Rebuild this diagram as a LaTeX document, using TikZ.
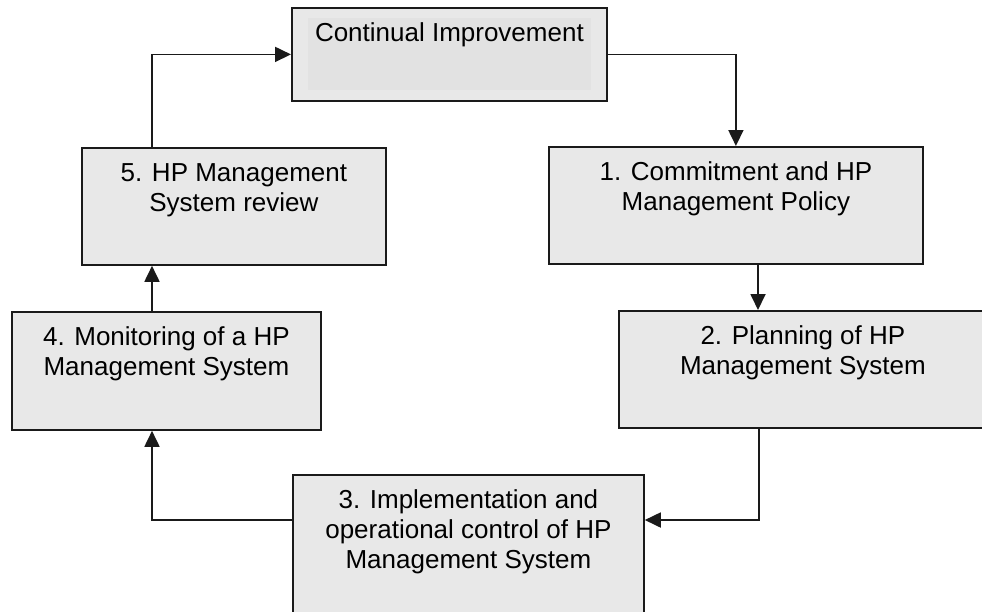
\documentclass[tikz,border=0pt]{standalone}
\usepackage{fontspec}
\setmainfont{Liberation Sans}
\usetikzlibrary{arrows.meta}
\definecolor{stagefill}{HTML}{E8E8E8}
\definecolor{innerfill}{HTML}{E2E2E2}
\definecolor{edgecol}{HTML}{1A1A1A}
\newcommand{\stagetext}[3]{\parbox[t][#2][t]{#1}{\centering\rule{0pt}{34pt}#3}}

\begin{document}
\begin{tikzpicture}[x=1pt,y=-1pt,
    stage/.style={draw=edgecol,fill=stagefill,line width=1.8pt,inner sep=0pt,
        anchor=north west,text=black,font=\fontsize{26}{30}\selectfont},
    flow/.style={draw=edgecol,line width=1.8pt,-{Triangle[length=16pt,width=15pt]}}]
    \useasboundingbox (0,0) rectangle (982,611);
    \clip (0,0) rectangle (982,611);
    % the six boxes
    \node[stage,path picture={\fill[innerfill]
        ([shift={(16pt,-10pt)}]path picture bounding box.north west) rectangle
        ([shift={(-16pt,11pt)}]path picture bounding box.south east);}]
        (cont) at (291,7) {\stagetext{315pt}{93pt}{Continual Improvement}};
    \node[stage] (b5) at (81,147) {\stagetext{304pt}{117pt}{5. HP Management\\System review}};
    \node[stage] (b1) at (548,146) {\stagetext{374pt}{117pt}{1. Commitment and HP\\Management Policy}};
    \node[stage] (b2) at (618,310) {\stagetext{368pt}{117pt}{2. Planning of HP\\Management System}};
    \node[stage] (b3) at (292,474) {\stagetext{351pt}{170pt}{3. Implementation and\\operational control of HP\\Management System}};
    \node[stage] (b4) at (11,311) {\stagetext{309pt}{118pt}{4. Monitoring of a HP\\Management System}};
    % bends of the cycle
    \coordinate (k4) at ([xshift=141pt]b4.south west);
    \coordinate (k12) at ([xshift=210pt]b1.south west);
    \coordinate (k23) at ([xshift=141pt]b2.south west);
    \coordinate (k3r) at ([yshift=-46pt]b3.north east);
    \coordinate (k3l) at ([yshift=-46pt]b3.north west);
    \draw[flow] (k4 |- b5.north) |- (cont.west);
    \draw[flow] (cont.east) -| (b1.north);
    \draw[flow] (k12) -- (k12 |- b2.north);
    \draw[flow] (k23) |- (k3r);
    \draw[flow] (k3l) -| (k4);
    \draw[flow] (k4 |- b4.north) -- (k4 |- b5.south);
\end{tikzpicture}
\end{document}
